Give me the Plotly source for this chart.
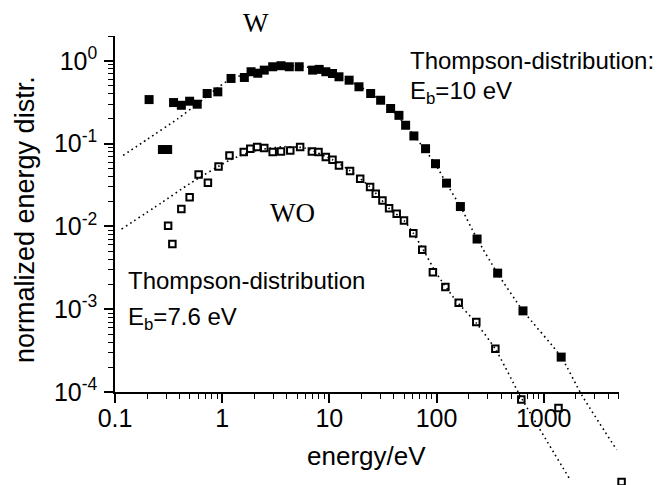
import math
import plotly.graph_objects as go

# ---------------- data ----------------
W_E = [0.208, 0.277, 0.31, 0.352, 0.416, 0.497, 0.585, 0.724, 0.911, 1.21,
       1.61, 1.86, 2.15, 2.47, 2.96, 3.54, 4.23, 5.23, 6.98, 8.04,
       9.27, 10.7, 12.3, 15.3, 18.9, 24.3, 30.1, 37.3, 44.6, 51.5,
       61.5, 79, 97.8, 124, 167, 239, 372, 641, 1456]
W_V = [0.341, 0.085, 0.085, 0.314, 0.291, 0.326, 0.30, 0.404, 0.423, 0.614,
       0.631, 0.74, 0.71, 0.774, 0.85, 0.875, 0.85, 0.85, 0.774, 0.79,
       0.74, 0.705, 0.643, 0.585, 0.487, 0.404, 0.335, 0.266, 0.22, 0.167,
       0.124, 0.087, 0.0573, 0.0334, 0.0174, 0.00705, 0.00273, 0.000955, 0.000264]

WO_E = [0.313, 0.343, 0.416, 0.497, 0.603, 0.736, 0.925, 1.17, 1.59, 1.83,
        2.12, 2.47, 2.96, 3.54, 4.32, 5.34, 6.87, 7.92, 9.27, 10.7,
        12.3, 15.6, 19.4, 24.0, 27.1, 31.3, 36.1, 42.5, 49.7, 60.7,
        73.6, 92.5, 121, 161, 235, 354, 618, 1374, 5330]
WO_V = [0.0102, 0.00614, 0.0163, 0.0226, 0.0425, 0.0337, 0.0531, 0.0722, 0.0794, 0.087,
        0.0912, 0.0887, 0.0794, 0.0807, 0.083, 0.0912, 0.0807, 0.0794, 0.069, 0.064,
        0.0546, 0.0467, 0.0377, 0.0299, 0.0248, 0.0206, 0.0166, 0.0142, 0.0118, 0.00826,
        0.00524, 0.00279, 0.00186, 0.0012, 0.0007, 0.000334, 0.000081, 0.000064, 0.0000082]

# Thompson-distribution curves (dotted)
W_LINE_E = [0.119, 0.2, 0.387, 0.6, 1.09, 1.6, 2.5, 3.5, 5, 7, 10.7, 18.9, 36,
            61.5, 97, 124, 167, 239, 372, 641, 1456, 2265, 4800]
W_LINE_V = [0.0721, 0.113, 0.201, 0.31, 0.56, 0.69, 0.80, 0.86, 0.87, 0.82, 0.705,
            0.50, 0.28, 0.126, 0.057, 0.033, 0.0174, 0.0071, 0.0027, 0.00096,
            0.000264, 0.000092, 0.00002]

WO_LINE_E = [0.115, 0.271, 0.5, 1.17, 2, 3.8, 6, 10.7, 15.6, 24, 36, 49.7, 60.7,
             73.6, 100, 150, 235, 354, 618, 1766]
WO_LINE_V = [0.0093, 0.0193, 0.033, 0.063, 0.082, 0.092, 0.088, 0.064, 0.047, 0.030,
             0.0166, 0.0118, 0.0083, 0.0055, 0.0027, 0.0013, 0.00068, 0.00033,
             0.000085, 0.0000087]

X_TICK_VALS = [0.1, 1, 10, 100, 1000]
X_TICK_TEXT = ["0.1", "1", "10", "100", "1000"]
Y_TICK_VALS = [1e-4, 1e-3, 1e-2, 1e-1, 1]
Y_TICK_TEXT = ["10<sup>-4</sup>", "10<sup>-3</sup>", "10<sup>-2</sup>",
               "10<sup>-1</sup>", "10<sup>0</sup>"]

X_TITLE = "energy/eV"
Y_TITLE = "normalized energy distr."

# ---------------- geometry ----------------
W, H = 668, 485
X_MIN, X_MAX = -1.0, math.log10(5000)   # log10 energy range of drawn axis
Y_MIN, Y_MAX = -4.0, math.log10(2)      # log10 value range of drawn axis
PX_L, PX_R = 115, 618.6                 # pixel x of axis ends
PY_B, PY_T = 392, 36                    # pixel y of axis ends

sx = (PX_R - PX_L) / (X_MAX - X_MIN)
sy = (PY_B - PY_T) / (Y_MAX - Y_MIN)
# full-canvas data axes (so markers/lines are not clipped at the drawn axes)
X2_RANGE = [X_MIN - PX_L / sx, X_MIN + (W - PX_L) / sx]
Y2_RANGE = [Y_MIN - (H - PY_B) / sy, Y_MAX + PY_T / sy]

minor_x = [m * 10 ** k for k in range(-1, 4) for m in range(2, 10) if m * 10 ** k <= 5000]
minor_y = [m * 10 ** k for k in range(-4, 1) for m in range(2, 10) if m * 10 ** k <= 2.01]

def px(x):
    return x / W

def py(y):
    return 1 - y / H

fig = go.Figure()
# empty trace for the drawn axes
fig.add_trace(go.Scatter(x=[], y=[], xaxis="x", yaxis="y", showlegend=False, hoverinfo="skip"))

dot = "1.6px,3.4px"
fig.add_trace(go.Scatter(x=W_LINE_E, y=W_LINE_V, mode="lines", xaxis="x2", yaxis="y2",
                         line=dict(color="black", width=1.6, dash=dot, shape="spline", smoothing=0.6),
                         showlegend=False))
fig.add_trace(go.Scatter(x=WO_LINE_E, y=WO_LINE_V, mode="lines", xaxis="x2", yaxis="y2",
                         line=dict(color="black", width=1.6, dash=dot, shape="spline", smoothing=0.6),
                         showlegend=False))
fig.add_trace(go.Scatter(x=W_E, y=W_V, mode="markers", xaxis="x2", yaxis="y2",
                         marker=dict(symbol="square", size=9, color="black"),
                         cliponaxis=False, showlegend=False))
fig.add_trace(go.Scatter(x=WO_E, y=WO_V, mode="markers", xaxis="x2", yaxis="y2",
                         marker=dict(symbol="square-open", size=6.5, color="black",
                                     line=dict(width=2, color="black")),
                         cliponaxis=False, showlegend=False))

tickfont = dict(family="Liberation Sans, Arial", size=25, color="black")

fig.update_layout(
    width=W, height=H, autosize=False,
    margin=dict(l=0, r=0, t=0, b=0, pad=0),
    paper_bgcolor="white", plot_bgcolor="rgba(0,0,0,0)",
    xaxis=dict(type="log", domain=[px(PX_L), px(PX_R)], range=[X_MIN, X_MAX], anchor="y",
               showline=True, linecolor="black", linewidth=1.5, mirror=False,
               ticks="outside", ticklen=9, tickwidth=1.5, tickcolor="black",
               tickmode="array", tickvals=X_TICK_VALS, ticktext=X_TICK_TEXT,
               tickfont=tickfont, ticklabelstandoff=-6,
               showgrid=False, zeroline=False, automargin=False,
               minor=dict(ticks="outside", ticklen=5, tickwidth=1.3, tickcolor="black",
                          tickmode="array", tickvals=minor_x, showgrid=False)),
    yaxis=dict(type="log", domain=[py(PY_B), py(PY_T)], range=[Y_MIN, Y_MAX], anchor="x",
               showline=True, linecolor="black", linewidth=1.5,
               ticks="outside", ticklen=9, tickwidth=1.5, tickcolor="black",
               tickmode="array", tickvals=Y_TICK_VALS, ticktext=Y_TICK_TEXT,
               tickfont=tickfont, ticklabelstandoff=2,
               showgrid=False, zeroline=False, automargin=False,
               minor=dict(ticks="outside", ticklen=5, tickwidth=1.3, tickcolor="black",
                          tickmode="array", tickvals=minor_y, showgrid=False)),
    xaxis2=dict(type="log", domain=[0, 1], range=X2_RANGE, anchor="y2", visible=False),
    yaxis2=dict(type="log", domain=[0, 1], range=Y2_RANGE, anchor="x2", visible=False),
)

sans = "Liberation Sans, Arial"
serif = "Liberation Serif, Times New Roman"

def ann(text, x, y, size, family=sans, xanchor="left", angle=0):
    fig.add_annotation(text=text, x=px(x), y=py(y), xref="paper", yref="paper",
                       xanchor=xanchor, yanchor="middle", showarrow=False,
                       textangle=angle, font=dict(family=family, size=size, color="black"))

ann("W", 256, 23, 27, family=serif, xanchor="center")
ann("WO", 292, 213, 27, family=serif, xanchor="center")
ann("Thompson-distribution:", 408, 60, 24)
ann("E<sub>b</sub>=10 eV", 408, 93, 24)
ann("Thompson-distribution", 126, 280, 24)
ann("E<sub>b</sub>=7.6 eV", 126, 318, 24)
ann(X_TITLE, 366, 456, 26, xanchor="center")
ann(Y_TITLE, 25, 220, 27, xanchor="center", angle=-90)

fig.write_html("out.html")
